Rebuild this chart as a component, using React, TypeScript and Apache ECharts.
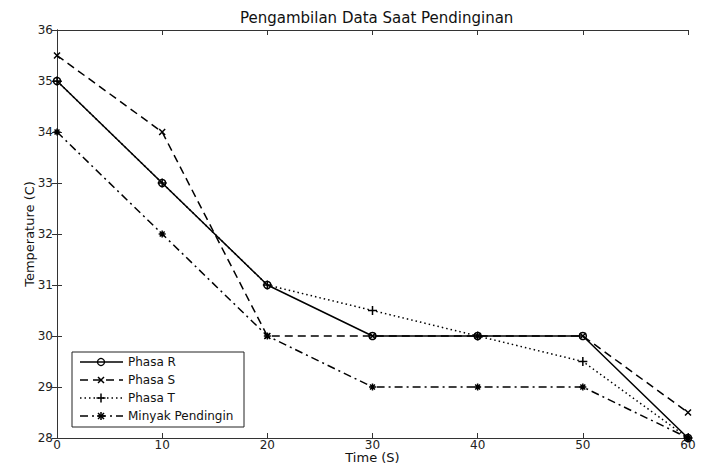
import React, { useEffect, useRef } from "react";
import * as echarts from "echarts";

const timeS = [0, 10, 20, 30, 40, 50, 60];
const phasaR = [35, 33, 31, 30, 30, 30, 28];
const phasaS = [35.5, 34, 30, 30, 30, 30, 28.5];
const phasaT = [35, 33, 31, 30.5, 30, 29.5, 28];
const minyak = [34, 32, 30, 29, 29, 29, 28];
const seriesNames = ["Phasa R", "Phasa S", "Phasa T", "Minyak Pendingin"];

const FONT = "DejaVu Sans, Arial, sans-serif";
const X_SYM = "path://M0,0L10,10M10,0L0,10";
const PLUS_SYM = "path://M5,0L5,10M0,5L10,5";
const STAR_SYM = "path://M5,0L5,10M0,5L10,5M1.5,1.5L8.5,8.5M8.5,1.5L1.5,8.5";

function pairs(v: number[]) {
  return timeS.map((t, i) => [t, v[i]]);
}

export default function App() {
  const ref = useRef<HTMLDivElement>(null);
  useEffect(() => {
    if (!ref.current) return;
    const chart = echarts.init(ref.current, undefined, { renderer: "svg" });
    const axisLine = { show: true, lineStyle: { color: "#333", width: 1 } };
    const tick = { show: true, inside: true, length: 5, lineStyle: { color: "#333" } };
    const label = { color: "#222", fontSize: 12, fontFamily: FONT };
    const lineStyles: any[] = [
      { type: "solid" },
      { type: [8, 5] },
      { type: [1.5, 3] },
      { type: [8, 4, 2, 4] },
    ];
    const symbols = ["circle", X_SYM, PLUS_SYM, STAR_SYM];
    const symSizes = [7, 6, 9, 7];
    const data = [phasaR, phasaS, phasaT, minyak];

    const legendItems: any[] = [];
    const lx = 72, ly = 352, lw = 172, lh = 75;
    legendItems.push({
      type: "rect",
      shape: { x: lx, y: ly, width: lw, height: lh },
      style: { fill: "#fff", stroke: "#222", lineWidth: 1 },
      z: 100,
    });
    const rows = [362, 380, 398, 416];
    rows.forEach((ry, i) => {
      legendItems.push({
        type: "line",
        shape: { x1: 80, y1: ry, x2: 123, y2: ry },
        style: { stroke: "#000", lineWidth: 1.5, lineDash: i === 0 ? null : lineStyles[i].type },
        z: 101,
      });
      if (i === 0) {
        legendItems.push({
          type: "circle",
          shape: { cx: 101, cy: ry, r: 3.5 },
          style: { fill: "none", stroke: "#000", lineWidth: 1.3 },
          z: 102,
        });
      } else {
        const segs: number[][] =
          i === 1
            ? [[-3, -3, 3, 3], [3, -3, -3, 3]]
            : i === 2
            ? [[0, -4.5, 0, 4.5], [-4.5, 0, 4.5, 0]]
            : [[0, -4, 0, 4], [-4, 0, 4, 0], [-3, -3, 3, 3], [3, -3, -3, 3]];
        segs.forEach((s) =>
          legendItems.push({
            type: "line",
            shape: { x1: 101 + s[0], y1: ry + s[1], x2: 101 + s[2], y2: ry + s[3] },
            style: { stroke: "#000", lineWidth: 1.5 },
            z: 102,
          })
        );
      }
      legendItems.push({
        type: "text",
        x: 128,
        y: ry,
        style: { text: seriesNames[i], fill: "#111", font: `12px ${FONT}`, verticalAlign: "middle" },
        z: 102,
      });
    });

    chart.setOption({
      animation: false,
      backgroundColor: "#fff",
      title: {
        text: "Pengambilan Data Saat Pendinginan",
        left: 235,
        top: 5,
        textStyle: { fontSize: 15, fontWeight: "normal", color: "#111", fontFamily: FONT },
      },
      grid: {
        left: 57,
        right: 18,
        top: 30,
        bottom: 28,
        containLabel: false,
        outerBoundsMode: "none",
      },
      xAxis: [
        {
          type: "value",
          min: 0,
          max: 60,
          interval: 10,
          position: "bottom",
          axisLine,
          axisTick: tick,
          axisLabel: { ...label, margin: 1, lineHeight: 11 },
          splitLine: { show: false },
          name: "Time (S)",
          nameLocation: "middle",
          nameGap: 13,
          nameMoveOverlap: false,
          nameTextStyle: { fontSize: 13, lineHeight: 13, color: "#111", fontFamily: FONT },
        },
        {
          type: "value",
          min: 0,
          max: 60,
          interval: 10,
          position: "top",
          axisLine,
          axisTick: tick,
          axisLabel: { show: false },
          splitLine: { show: false },
        },
      ],
      yAxis: [
        {
          type: "value",
          min: 28,
          max: 36,
          interval: 1,
          position: "left",
          axisLine,
          axisTick: tick,
          axisLabel: { ...label, margin: 4 },
          splitLine: { show: false },
          name: "Temperature (C)",
          nameLocation: "middle",
          nameGap: 21,
          nameMoveOverlap: false,
          nameTextStyle: { fontSize: 13, color: "#111", fontFamily: FONT },
        },
        {
          type: "value",
          min: 28,
          max: 36,
          interval: 1,
          position: "right",
          axisLine,
          axisTick: tick,
          axisLabel: { show: false },
          splitLine: { show: false },
        },
      ],
      series: data.map((d, i) => ({
        name: seriesNames[i],
        type: "line",
        data: pairs(d),
        symbol: symbols[i],
        symbolSize: symSizes[i],
        showSymbol: true,
        lineStyle: { color: "#000", width: 1.5, ...lineStyles[i] },
        itemStyle: { color: "none", borderColor: "#000", borderWidth: 1.5 },
        emphasis: { disabled: true },
        z: 10 - i,
      })),
      graphic: legendItems,
    });
    return () => chart.dispose();
  }, []);
  return (
    <div
      ref={ref}
      style={{ position: "fixed", left: 0, top: 0, width: 706, height: 466 }}
    />
  );
}
